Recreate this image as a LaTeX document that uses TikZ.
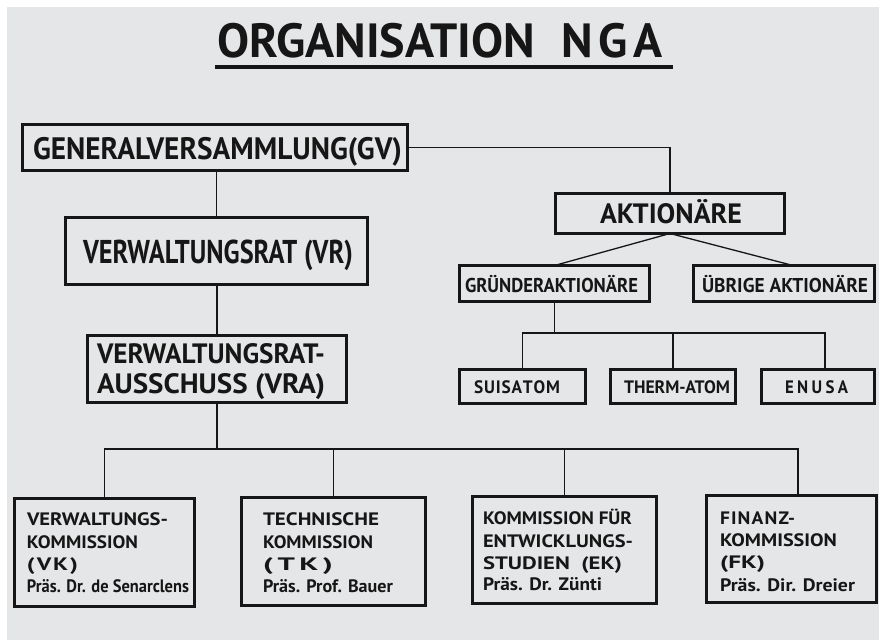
\documentclass[tikz,border=0pt]{standalone}
\usepackage{fontspec}
\setmainfont{PT Sans}
\usepackage{graphicx}
\definecolor{bg}{RGB}{229,230,232}
\definecolor{ink}{RGB}{22,22,22}
\newcommand\fitw[2]{\resizebox{#1pt}{\height}{#2}}
\newcommand\fsz[1]{\fontsize{#1}{#1}\selectfont}
\tikzset{
  box/.style={draw=ink, line width=2.6pt, rectangle, inner sep=0pt, outer sep=0pt},
  lbl/.style={anchor=base west, inner sep=0pt, outer sep=0pt, text=ink},
  conn/.style={draw=ink, line width=1.3pt},
}
\begin{document}
\begin{tikzpicture}[x=1pt,y=-1pt]
\useasboundingbox (0,0) rectangle (879,640);
\fill[white] (0,0) rectangle (879,640);
\fill[bg] (7,7) rectangle (879,640);

% title
\node[lbl, font=\fsz{48}\bfseries] (title) at (217,57) {\fitw{446}{ORGANISATION\hspace{0.55em}N\kern0.12em G\kern0.12em A}};
\draw[ink, line width=3.5pt] ([xshift=-2pt,yshift=-10pt]title.base west) -- ([xshift=10pt,yshift=-10pt]title.base east);

% boxes
\node[box, minimum width=385pt, minimum height=46pt] (gv) at (215,147.5) {};
\node[box, minimum width=302pt, minimum height=67pt] (vr) at (216.5,251) {};
\node[box, minimum width=259pt, minimum height=67pt] (vra) at (217,369) {};
\node[box, minimum width=229pt, minimum height=40pt] (akt) at (670,213.5) {};
\node[box, minimum width=190pt, minimum height=36pt] (gr) at (554.5,283.5) {};
\node[box, minimum width=181pt, minimum height=36pt] (ue) at (784,283.5) {};
\node[box, minimum width=126pt, minimum height=34pt] (su) at (522.5,386.5) {};
\node[box, minimum width=125pt, minimum height=34pt] (th) at (673,386.5) {};
\node[box, minimum width=113pt, minimum height=34pt] (en) at (818,386.5) {};
\node[box, minimum width=180pt, minimum height=108pt] (vk) at (104.5,552.5) {};
\node[box, minimum width=184pt, minimum height=108pt] (tk) at (333.5,551.5) {};
\node[box, minimum width=184pt, minimum height=107pt] (ek) at (564.5,550) {};
\node[box, minimum width=170pt, minimum height=107pt] (fk) at (791.5,549) {};

% texts
\node[lbl, font=\fsz{31}\bfseries] (gvt) at (33,159) {\fitw{369}{GENERALVERSAMMLUNG(GV)}};
\node[lbl, font=\fsz{33}\bfseries] (vrt) at (83,263) {\fitw{270}{VERWALTUNGSRAT (VR)}};
\node[lbl, font=\fsz{28}\bfseries] (vrt1) at (97,363) {\fitw{228}{VERWALTUNGSRAT-}};
\node[lbl, font=\fsz{28}\bfseries] (vrt2) at (97,393) {\fitw{228}{AUSSCHUSS (VRA)}};
\node[lbl, font=\fsz{28}\bfseries] (aktt) at (600,223) {\fitw{142}{AKTIONÄRE}};
\node[lbl, font=\fsz{20}\bfseries] (grt) at (465,292) {\fitw{173}{GRÜNDERAKTIONÄRE}};
\node[lbl, font=\fsz{20}\bfseries] (uet) at (702,292) {\fitw{166}{ÜBRIGE AKTIONÄRE}};
\node[lbl, font=\fsz{18}\bfseries] (sut) at (474,393) {\fitw{86}{S\kern.05em U\kern.05em I\kern.05em S\kern.05em A\kern.05em T\kern.05em O\kern.05em M}};
\node[lbl, font=\fsz{18}\bfseries] (tht) at (624,393) {\fitw{106}{THERM-ATOM}};
\node[lbl, font=\fsz{18}\bfseries] (ent) at (785,393) {\fitw{63}{E\kern.2em N\kern.2em U\kern.2em S\kern.2em A}};

\node[lbl, font=\fsz{18}\bfseries] (vk1) at (27,525) {\fitw{141}{VERWALTUNGS-}};
\node[lbl, font=\fsz{18}\bfseries] (vk2) at (27,548) {\fitw{111}{KOMMISSION}};
\node[lbl, font=\fsz{18}\bfseries] (vk3) at (27,570) {\fitw{51}{(\kern.08em V\kern.08em K\kern.08em )}};
\node[lbl, font=\fsz{18}\bfseries] (vk4) at (27,592) {\fitw{162}{Präs. Dr. de Senarclens}};

\node[lbl, font=\fsz{18}\bfseries] (tk1) at (263,525) {\fitw{116}{TECHNISCHE}};
\node[lbl, font=\fsz{18}\bfseries] (tk2) at (263,548) {\fitw{110}{KOMMISSION}};
\node[lbl, font=\fsz{18}\bfseries] (tk3) at (263,570) {\fitw{70}{(\kern.15em T\kern.15em K\kern.15em )}};
\node[lbl, font=\fsz{18}\bfseries] (tk4) at (263,592) {\fitw{130}{Präs. Prof. Bauer}};

\node[lbl, font=\fsz{18}\bfseries] (ek1) at (483,524) {\fitw{149}{KOMMISSION FÜR}};
\node[lbl, font=\fsz{18}\bfseries] (ek2) at (483,547) {\fitw{150}{ENTWICKLUNGS-}};
\node[lbl, font=\fsz{18}\bfseries] (ek3) at (483,569) {\fitw{139}{STUDIEN\hspace{0.5em}(EK)}};
\node[lbl, font=\fsz{18}\bfseries] (ek4) at (483,590) {\fitw{119}{Präs. Dr. Zünti}};

\node[lbl, font=\fsz{18}\bfseries] (fk1) at (720,524) {\fitw{75}{F\kern.06em I\kern.06em N\kern.06em A\kern.06em N\kern.06em Z-}};
\node[lbl, font=\fsz{18}\bfseries] (fk2) at (720,546) {\fitw{117}{KOMMISSION}};
\node[lbl, font=\fsz{18}\bfseries] (fk3) at (720,568) {\fitw{45}{(FK)}};
\node[lbl, font=\fsz{18}\bfseries] (fk4) at (720,591) {\fitw{135}{Präs. Dir. Dreier}};

% connectors
\coordinate (c2) at (556,333);
\coordinate (c3) at (825,333);
\coordinate (c1) at (217,449);
\coordinate (c4) at (798,449);
\draw[conn] (vr.north |- gv.south) -- (vr.north);
\draw[conn] (vra.north |- vr.south) -- (vra.north);
\draw[conn] (vra.south) -- (vra.south |- c1);
\draw[conn] (vk.north) |- (c4) -- (c4 |- fk.north);
\draw[conn] (tk.north) -- (tk.north |- c1);
\draw[conn] (ek.north) -- (ek.north |- c1);
\draw[conn] (gv.east) -| (akt.north);
\draw[conn] (akt.south) -- (gr.north);
\draw[conn] (akt.south) -- ([xshift=9pt]ue.north);
\draw[conn] (gr.south) -- (gr.south |- c2);
\draw[conn] (su.north) |- (c3) -- (c3 |- en.north);
\draw[conn] (th.north) -- (th.north |- c2);
\end{tikzpicture}
\end{document}
